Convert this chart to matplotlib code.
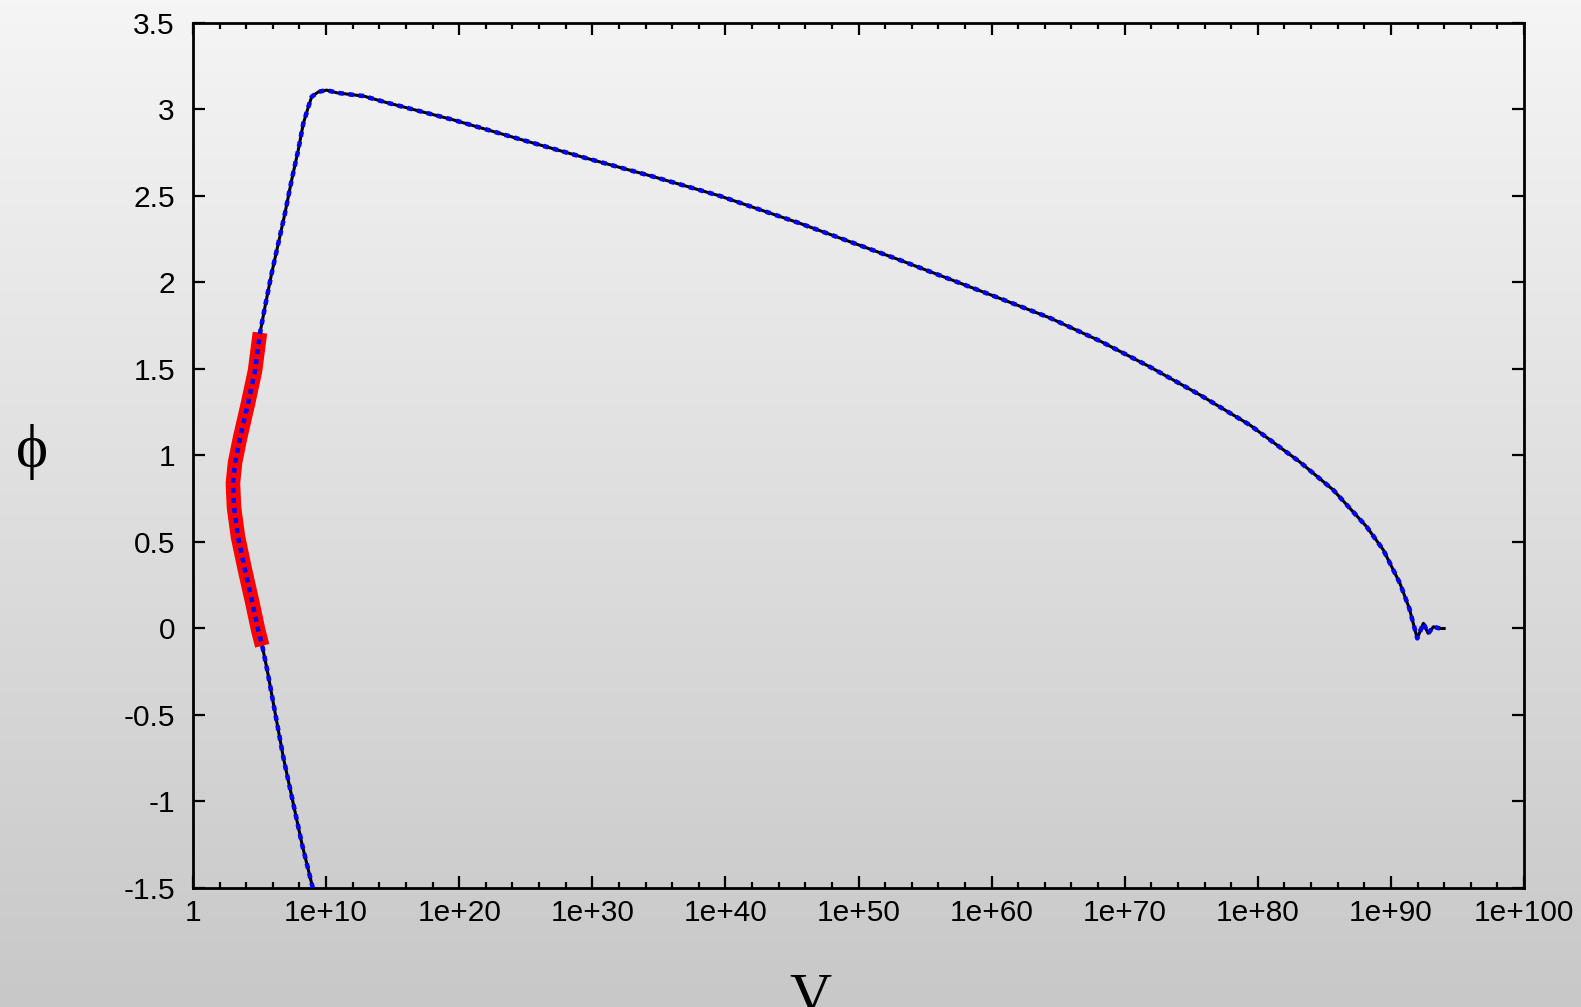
#!/usr/bin/env python3
"""phi(V) trajectory on a log V axis, gnuplot-style look."""

import matplotlib

matplotlib.use("Agg")
import matplotlib.pyplot as plt
import matplotlib.ticker as mticker
import numpy as np

# curve: exponent of V and phi
log10_v = [9.0, 8.2, 7.5, 6.8, 6.2, 5.6, 5.2, 4.9, 4.43, 3.9, 3.38, 3.08, 3.0,
           3.16, 3.53, 4.13, 4.66, 5.03, 5.41, 5.91, 6.41, 6.91, 7.41, 7.91,
           8.29, 8.67, 8.92, 9.42, 10.04, 10.79, 12.0, 12.8, 14.55, 19.56,
           24.57, 29.58, 34.58, 39.6, 45.6, 53.1, 60.63, 64.39, 68.14, 71.9,
           75.66, 79.41, 83.17, 85.68, 88.18, 89.43, 90.68, 91.38, 91.98,
           92.44, 92.8, 93.2, 93.7, 94.0]
phi = [-1.5, -1.25, -1.0, -0.75, -0.5, -0.25, -0.1, -0.01, 0.16, 0.34, 0.53,
       0.70, 0.84, 0.96, 1.10, 1.30, 1.49, 1.706, 1.86, 2.053, 2.226, 2.40,
       2.592, 2.766, 2.92, 3.016, 3.074, 3.102, 3.112, 3.097, 3.085, 3.078,
       3.04, 2.94, 2.828, 2.718, 2.612, 2.5, 2.342, 2.13, 1.908, 1.795, 1.662,
       1.512, 1.35, 1.176, 0.962, 0.80, 0.588, 0.454, 0.261, 0.117, -0.057,
       0.03, -0.028, 0.01, 0.0, 0.0]

# highlighted (red) stretch
red_log10_v = [5.2, 4.9, 4.43, 3.9, 3.38, 3.08, 3.0, 3.16, 3.53, 4.13, 4.66, 5.03]
red_phi = [-0.1, -0.01, 0.16, 0.34, 0.53, 0.70, 0.84, 0.96, 1.10, 1.30, 1.49, 1.71]

x_major_exp = list(range(0, 101, 10))
x_minor_exp = [k for k in range(0, 101, 2) if k % 10]
x_tick_labels = ["1"] + [f"1e+{k}" for k in x_major_exp[1:]]
y_ticks = [-1.5, -1.0, -0.5, 0.0, 0.5, 1.0, 1.5, 2.0, 2.5, 3.0, 3.5]
y_tick_labels = ["-1.5", "-1", "-0.5", "0", "0.5", "1", "1.5", "2", "2.5", "3", "3.5"]

W, H = 1581, 1007
fig = plt.figure(figsize=(W / 100, H / 100), dpi=100)

# grey vertical gradient behind everything
bg = fig.add_axes([0, 0, 1, 1], zorder=-10)
grad = np.linspace(245, 200, 256)[:, None] / 255.0
bg.imshow(np.dstack([grad, grad, grad]), aspect="auto", extent=[0, 1, 0, 1])
bg.set_axis_off()

left, right, top, bottom = 193, 1524, 23, 888
ax = fig.add_axes([left / W, 1 - bottom / H, (right - left) / W, (bottom - top) / H])
ax.set_facecolor("none")

v = 10.0 ** np.asarray(log10_v)
v_red = 10.0 ** np.asarray(red_log10_v)

ax.plot(v, phi, color="black", lw=2.2, zorder=2)
ax.plot(v_red, red_phi, color="#ff0000", lw=10.5, solid_capstyle="butt",
        solid_joinstyle="round", zorder=3)
ax.plot(v, phi, color="#0000ff", lw=3.3, linestyle=(0, (1.1, 1.1)),
        dash_capstyle="butt", zorder=4)

ax.set_xscale("log")
ax.set_xlim(1, 1e100)
ax.set_ylim(-1.5, 3.5)
ax.set_xticks([10.0 ** k for k in x_major_exp])
ax.set_xticks([10.0 ** k for k in x_minor_exp], minor=True)
ax.xaxis.set_minor_formatter(mticker.NullFormatter())
ax.set_xticklabels(x_tick_labels, fontsize=21.5, family=["Liberation Sans", "DejaVu Sans"])
ax.set_yticks(y_ticks)
ax.set_yticklabels(y_tick_labels, fontsize=21.5, family=["Liberation Sans", "DejaVu Sans"])
ax.yaxis.set_minor_locator(mticker.NullLocator())

ax.tick_params(which="both", direction="in", top=True, right=True, width=1.6,
               color="black")
ax.tick_params(which="major", length=8.6)
ax.tick_params(which="minor", length=4.3)
ax.tick_params(axis="x", which="major", pad=8)
ax.tick_params(axis="y", which="major", pad=13)
for sp in ax.spines.values():
    sp.set_linewidth(2.0)

serif = ["Liberation Serif", "DejaVu Serif"]
fig.text(32 / W, 1 - 452 / H, "\u03d5", family=serif, fontsize=44,
         ha="center", va="center")
fig.text(810 / W, 1 - 1012 / H, "V", family=serif, fontsize=42,
         ha="center", va="baseline")

fig.savefig("out.png", dpi=100)
